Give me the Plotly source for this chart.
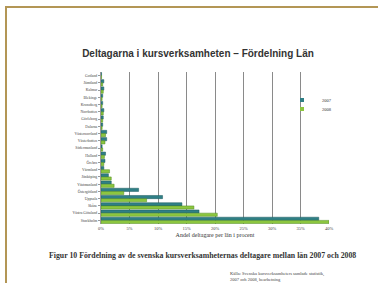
import plotly.graph_objects as go

# Categories listed from top to bottom as in the reference
lan = ["Gotland", "Jämtland", "Kalmar", "Blekinge", "Kronoberg", "Norrbotten",
       "Gävleborg", "Dalarna", "Västernorrland", "Västerbotten", "Södermanland",
       "Halland", "Örebro", "Värmland", "Jönköping", "Västmanland",
       "Östergötland", "Uppsala", "Skåne", "Västra Götaland", "Stockholm"]
andel_2007 = [0.1, 0.5, 0.5, 0.3, 0.3, 0.5, 0.4, 0.3, 1.0, 1.0, 0.2,
              0.8, 0.7, 0.5, 1.3, 1.8, 6.6, 10.8, 14.2, 17.2, 38.2]
andel_2008 = [0.1, 0.3, 0.4, 0.2, 0.2, 0.4, 0.3, 0.2, 0.8, 0.7, 0.3,
              0.6, 0.5, 1.5, 1.8, 2.3, 4.0, 8.0, 16.3, 20.4, 40.0]
x_ticks = [0, 5, 10, 15, 20, 25, 30, 35, 40]
x_tick_text = ["0%", "5%", "10%", "15%", "20%", "25%", "30%", "35%", "40%"]

C07, C08 = "#2f7f86", "#8cc63f"

W, H = 378, 283
ML, MR, MT, MB = 101, 49, 72, 59
PW, PH = W - ML - MR, H - MT - MB

def px(x):
    return (x - ML) / PW

def py(y):
    return 1 - (y - MT) / PH

fig = go.Figure()
fig.add_trace(go.Bar(y=lan, x=andel_2007, name="2007", orientation="h", showlegend=False,
                     marker=dict(color=C07, line=dict(color="#1d5a5f", width=0.5))))
fig.add_trace(go.Bar(y=lan, x=andel_2008, name="2008", orientation="h", showlegend=False,
                     marker=dict(color=C08, line=dict(color="#4f8a1e", width=0.5))))
# small legend entries (one legend each so they can sit close together)
fig.add_trace(go.Scatter(x=[None], y=[None], mode="markers", name="2007", legend="legend",
                         marker=dict(symbol="square", size=4, color=C07)))
fig.add_trace(go.Scatter(x=[None], y=[None], mode="markers", name="2008", legend="legend2",
                         marker=dict(symbol="square", size=4, color=C08)))

leg_common = dict(xanchor="left", yanchor="middle", bgcolor="rgba(255,255,255,0)",
                  borderwidth=0, font=dict(size=4.5), itemwidth=30)

fig.update_layout(
    width=W, height=H,
    margin=dict(l=ML, r=MR, t=MT, b=MB, pad=0),
    paper_bgcolor="white", plot_bgcolor="white",
    barmode="group", bargap=0.12, bargroupgap=0,
    font=dict(family="Liberation Serif", size=4, color="#333"),
    title=dict(text="<b>Deltagarna i kursverksamheten – Fördelning Län</b>",
               x=px(198), xref="paper", xanchor="center", y=1 - 53 / H, yanchor="middle",
               font=dict(family="Liberation Sans", size=10, color="#333")),
    xaxis=dict(range=[0, 40], tickvals=x_ticks, ticktext=x_tick_text,
               showgrid=True, gridcolor="#8a8a8a", gridwidth=1.2,
               zeroline=False, showline=False, ticks="", ticklen=0,
               tickfont=dict(size=4.5, color="#444"),
               title=dict(text="Andel deltagare per län i procent", standoff=3,
                          font=dict(size=6, color="#333"))),
    yaxis=dict(autorange="reversed", showline=True, linecolor="#999", linewidth=1,
               ticks="outside", ticklen=2, tickcolor="#999",
               tickfont=dict(size=3.8, color="#444")),
    legend=dict(x=px(282), y=py(100), **leg_common),
    legend2=dict(x=px(282), y=py(109), **leg_common),
    showlegend=True,
)

# Decorative page frame (tan lines at top and left)
fig.add_shape(type="line", xref="paper", yref="paper", x0=px(5), x1=px(380),
              y0=py(7), y1=py(7), line=dict(color="#b39655", width=2))
fig.add_shape(type="line", xref="paper", yref="paper", x0=px(6), x1=px(6),
              y0=py(6), y1=py(290), line=dict(color="#b39655", width=2))

fig.add_annotation(text="<b>Figur 10 Fördelning av de svenska kursverksamheternas deltagare mellan län 2007 och 2008</b>",
                   xref="paper", yref="paper", x=px(202), y=py(262),
                   showarrow=False, font=dict(family="Liberation Serif", size=7.8, color="#333"))
fig.add_annotation(text="Källa: Svenska kursverksamheters samlade statistik,<br>2007 och 2008, bearbetning",
                   xref="paper", yref="paper", x=px(228), y=py(269), xanchor="left", yanchor="top",
                   align="left", showarrow=False,
                   font=dict(family="Liberation Serif", size=4.5, color="#444"))

fig.write_html("out.html", config={"displayModeBar": False},
               post_script="document.body.style.margin='0';")
